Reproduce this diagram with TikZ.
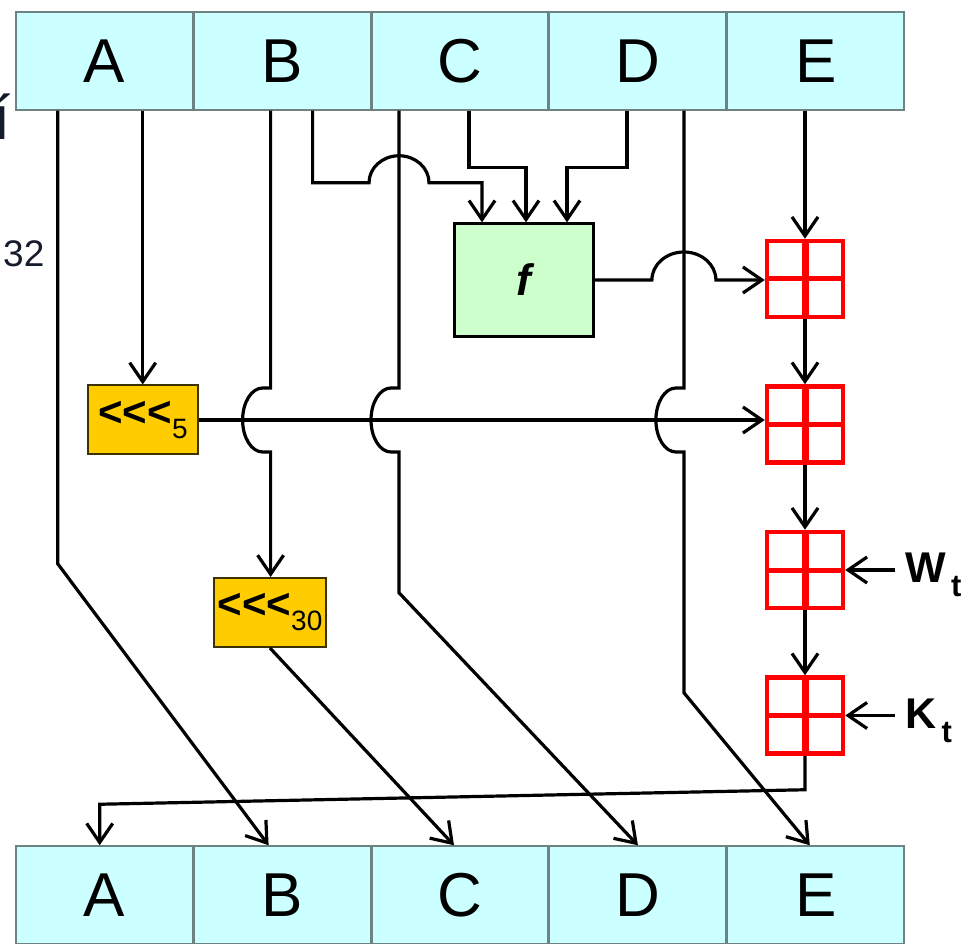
\documentclass[tikz,border=0pt]{standalone}
\usepackage{fontspec}
\setmainfont{Liberation Sans}
\usepackage{tikz}
\usetikzlibrary{arrows.meta, positioning, calc}
\definecolor{regcyan}{HTML}{CCFFFF}
\definecolor{regedge}{HTML}{6E8282}
\definecolor{fgreen}{HTML}{CCFFCC}
\definecolor{rotgold}{HTML}{FFCC00}
\definecolor{rotedge}{HTML}{3C3200}
\definecolor{addred}{HTML}{FF0000}
\definecolor{inkblue}{HTML}{141C2C}

\begin{document}
\begin{tikzpicture}[
    x=1pt, y=1pt,
    node distance=65pt,
    reg/.style={rectangle, draw=regedge, line width=1.5pt, fill=regcyan, minimum width=176.4pt, minimum height=98pt, inner sep=0pt, font=\fontsize{62}{62}\selectfont},
    fbox/.style={rectangle, draw=black, line width=2.8pt, fill=fgreen, minimum width=139.5pt, minimum height=112.5pt, inner sep=0pt, font=\fontsize{44}{44}\selectfont\bfseries\itshape},
    rotbox/.style={rectangle, draw=rotedge, line width=2pt, fill=rotgold, minimum height=69pt, inner sep=0pt, font=\fontsize{42}{42}\selectfont\bfseries},
    adder/.style={rectangle, draw=addred, line width=4.5pt, fill=white, minimum size=76pt, path picture={
        \draw[addred, line width=7pt] (path picture bounding box.north) -- (path picture bounding box.south);
        \draw[addred, line width=5pt] (path picture bounding box.west) -- (path picture bounding box.east);}},
    lbl/.style={inner xsep=10pt, inner ysep=0pt, font=\fontsize{43}{43}\selectfont\bfseries},
    wire/.style={line width=3.2pt, line join=miter},
    flow/.style={wire, -{Straight Barb[length=19pt, width=26pt]}},
  ]
  \path[use as bounding box, fill=white] (0,0) rectangle (968,943);

  \node[reg] (inA) at (104.2,882) {A};
  \node[reg, right=0pt of inA] (inB) {B};
  \node[reg, right=0pt of inB] (inC) {C};
  \node[reg, right=0pt of inC] (inD) {D};
  \node[reg, right=0pt of inD] (inE) {E};

  \node[reg] (outA) at (104.2,48) {A};
  \node[reg, right=0pt of outA] (outB) {B};
  \node[reg, right=0pt of outB] (outC) {C};
  \node[reg, right=0pt of outC] (outD) {D};
  \node[reg, right=0pt of outD] (outE) {E};

  \node[anchor=base west, inner sep=0pt, text=inkblue, font=\fontsize{62}{62}\selectfont] (cuttxt) at (-7,803) {í};
  \node[anchor=base west, inner sep=0pt, text=inkblue, font=\fontsize{37}{37}\selectfont] (modtxt) at (3,676) {32};

  \node[fbox] (f) at (524,663) {f};
  \node[rotbox, minimum width=110pt] (rotA) at (143,523) {<\kern0pt<\kern0pt<\raisebox{-12pt}{\fontsize{28}{28}\selectfont\mdseries 5}};
  \node[rotbox, minimum width=112pt] (rotB) at (270,330.5) {<\kern0pt<\kern0pt<\raisebox{-12pt}{\fontsize{28}{28}\selectfont\mdseries 30}};

  \node[adder] (add1) at (805,664) {};
  \node[adder, below=of add1] (add2) {};
  \node[adder, below=of add2] (add3) {};
  \node[adder, below=of add3] (add4) {};
  \node[lbl, right=50pt of add3, yshift=-5pt] (wt) {W\kern5pt\raisebox{-14pt}{\fontsize{31}{31}\selectfont t}};
  \node[lbl, right=50pt of add4, yshift=-5pt] (kt) {K\kern5pt\raisebox{-14pt}{\fontsize{31}{31}\selectfont t}};

  \coordinate (wA) at ([xshift=-46.5pt]inA.south);
  \coordinate (wA2) at ([xshift=38.5pt]inA.south);
  \coordinate (wB) at ([xshift=-11.5pt]inB.south);
  \coordinate (wB2) at ([xshift=30.5pt]inB.south);
  \coordinate (wC) at ([xshift=-61pt]inC.south);
  \coordinate (wC2) at ([xshift=9pt]inC.south);
  \coordinate (wD2) at ([xshift=-11pt]inD.south);
  \coordinate (wD) at ([xshift=46pt]inD.south);
  \coordinate (lvl1) at ($(wB2)+(0,-72)$);

  \draw[flow] (wA) -- ($(wA)+(0,-453)$) -- ([xshift=-13.5pt]outB.north);
  \draw[flow] (wA2) -- (wA2 |- rotA.north);
  \draw[flow] (rotA.east) -- (rotA.east -| add2.west);
  \draw[flow] (wB) -- ($(wB |- rotA.east)+(0,32)$) -- ++(-8,0) arc[start angle=90, end angle=270, x radius=20, y radius=32] -- ++(8,0) -- (wB |- rotB.north);
  \draw[flow] (rotB.south) -- ([xshift=-6pt]outC.north);
  \draw[flow] (wC) -- ($(wC |- rotA.east)+(0,32)$) -- ++(-8,0) arc[start angle=90, end angle=270, x radius=20, y radius=32] -- ++(8,0) -- ($(wC)+(0,-482)$) -- (outD.north);
  \draw[flow] (wD) -- ($(wD |- rotA.east)+(0,32)$) -- ++(-8,0) arc[start angle=90, end angle=270, x radius=20, y radius=32] -- ++(8,0) -- ($(wD)+(0,-582)$) -- ([xshift=-6pt]outE.north);

  \draw[flow] (wB2) -- (lvl1) -- ($(wC |- lvl1)+(-30,0)$) arc[start angle=180, end angle=0, x radius=30, y radius=27] -| ([xshift=-42pt]f.north);
  \draw[flow] (wC2) -- ++(0,-57) -| ([xshift=2pt]f.north);
  \draw[flow] (wD2) -- ++(0,-57) -| ([xshift=43pt]f.north);
  \draw[flow] (f.east) -- ($(wD |- f.east)+(-32,0)$) arc[start angle=180, end angle=0, x radius=32, y radius=28] -- (f.east -| add1.west);

  \draw[flow] (inE.south -| add1.north) -- (add1.north);
  \draw[flow] (add1) -- (add2);
  \draw[flow] (add2) -- (add3);
  \draw[flow] (add3) -- (add4);
  \draw[flow] (wt.west |- add3.east) -- (add3.east);
  \draw[flow] (kt.west |- add4.east) -- (add4.east);
  \draw[flow] (add4.south) -- ++(0,-34) -- ($(outA.north)+(-4.5,41)$) -- ([xshift=-4.5pt]outA.north);
\end{tikzpicture}
\end{document}
